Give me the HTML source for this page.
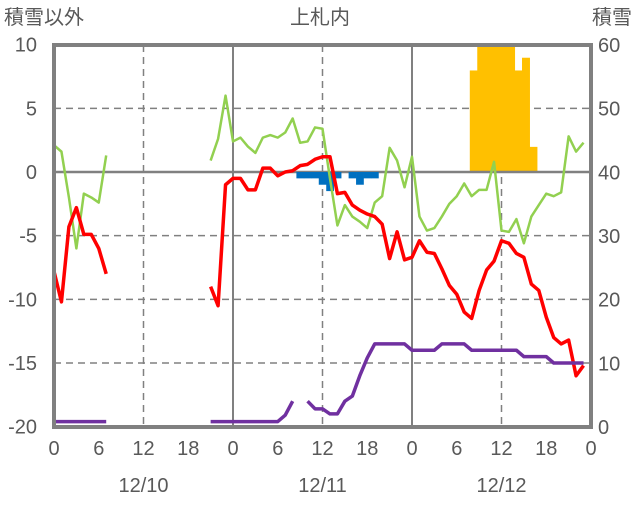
<!DOCTYPE html>
<html><head><meta charset="utf-8"><style>
body{margin:0;background:#fff}
svg text{font-family:"Liberation Sans","Noto Sans CJK JP",sans-serif;fill:#595959;font-size:20px}
</style></head><body>
<svg id="c" width="636" height="501"></svg>
<script>
const hoursA=[0,1,2,3,4,5,6,7];
const greenA=[2.1,1.6,-2,-6,-1.7,-2,-2.4,1.3];
const redA=[-7.8,-10.2,-4.3,-2.8,-4.9,-4.9,-6,-8];
const purpleA=[-19.6,-19.6,-19.6,-19.6,-19.6,-19.6,-19.6,-19.6];
const hoursB=[21,22,23,24,25,26,27,28,29,30,31,32,33,34,35,36,37,38,39,40,41,42,43,44,45,46,47,48,49,50,51,52,53,54,55,56,57,58,59,60,61,62,63,64,65,66,67,68,69,70,71];
const greenB=[0.9,2.6,6,2.4,2.7,2,1.5,2.7,2.9,2.7,3.1,4.2,2.3,2.4,3.5,3.4,-0.5,-4.2,-2.6,-3.5,-3.9,-4.4,-2.4,-1.9,1.9,0.9,-1.2,1.2,-3.5,-4.6,-4.4,-3.5,-2.5,-1.9,-0.9,-1.9,-1.4,-1.4,0.8,-4.6,-4.7,-3.7,-5.6,-3.5,-2.6,-1.7,-1.9,-1.6,2.8,1.6,2.3];
const redB=[-9,-10.5,-1,-0.5,-0.5,-1.4,-1.4,0.3,0.3,-0.3,0,0.1,0.5,0.6,1,1.2,1.2,-1.7,-1.6,-2.6,-3,-3.3,-3.5,-4.1,-6.8,-4.7,-6.9,-6.7,-5.4,-6.3,-6.4,-7.6,-8.9,-9.6,-11,-11.5,-9.3,-7.7,-7,-5.4,-5.6,-6.4,-6.7,-8.8,-9.3,-11.4,-13,-13.5,-13.2,-16,-15.2];
const purpleB1Hours=[21,22,23,24,25,26,27,28,29,30,31,32];
const purpleB1=[-19.6,-19.6,-19.6,-19.6,-19.6,-19.6,-19.6,-19.6,-19.6,-19.6,-19.1,-18];
const purpleB2Hours=[34,35,36,37,38,39,40,41,42,43,44,45,46,47,48,49,50,51,52,53,54,55,56,57,58,59,60,61,62,63,64,65,66,67,68,69,70,71];
const purpleB2=[-18,-18.6,-18.6,-19,-19,-18,-17.6,-16,-14.6,-13.5,-13.5,-13.5,-13.5,-13.5,-14,-14,-14,-14,-13.5,-13.5,-13.5,-13.5,-14,-14,-14,-14,-14,-14,-14,-14.5,-14.5,-14.5,-14.5,-15,-15,-15,-15,-15];
const precipHours=[33,34,35,36,37,38,40,41,42,43];
const precipVals=[-0.5,-0.5,-0.5,-1,-1.5,-0.5,-0.5,-1,-0.5,-0.5];
const snowHours=[56,57,58,59,60,61,62,63,64];
const snowVals=[56,60,60,60,60,60,56,58,44];
const snowBase=40;
const leftTicks=[10,5,0,-5,-10,-15,-20];
const rightTicks=[60,50,40,30,20,10,0];
const xTicks=[0,6,12,18,24,30,36,42,48,54,60,66,72];
const xTickLabels=["0","6","12","18","0","6","12","18","0","6","12","18","0"];
const dates=["12/10","12/11","12/12"];
const dateHours=[12,36,60];

const X=h=>54+h*(537/72);
const Y=v=>172-v*12.733;
const YR=v=>427-v*(382/60);
const svg=document.getElementById('c');
const NS='http://www.w3.org/2000/svg';
function mk(t,a,p){const e=document.createElementNS(NS,t);for(const k in a)e.setAttribute(k,a[k]);(p||svg).appendChild(e);return e;}

[5,-5,-10,-15].forEach(v=>{const l=mk('line',{x1:54,x2:591,y1:Y(v),y2:Y(v),stroke:'#808080','stroke-width':1.5,'stroke-dasharray':'7,5'});

});
[12,36,60].forEach(h=>{const l=mk('line',{x1:X(h),x2:X(h),y1:45,y2:427,stroke:'#808080','stroke-width':1.5,'stroke-dasharray':'7,5'});

});
[24,48].forEach(h=>{const l=mk('line',{x1:X(h),x2:X(h),y1:45,y2:427,stroke:'#808080','stroke-width':2});

});

snowHours.forEach((h,i)=>{const r=mk('rect',{x:X(h-0.25),y:YR(snowVals[i]),width:537/72+0.5,height:YR(snowBase)-YR(snowVals[i]),fill:'#ffc000'});

});

const z=mk('line',{x1:54,x2:591,y1:Y(0),y2:Y(0),stroke:'#808080','stroke-width':2.5});



precipHours.forEach((h,i)=>{const r=mk('rect',{x:X(h-0.5),y:Y(0),width:537/72+0.3,height:Y(precipVals[i])-Y(0),fill:'#0070c0'});

});

function line(hs,vs,col,w,name){const p=mk('polyline',{points:hs.map((h,i)=>X(h)+','+Y(vs[i])).join(' '),fill:'none',stroke:col,'stroke-width':w,'stroke-linejoin':'round'});

}
line(hoursA,greenA,'#92d050',2.5,'green-series-a');
line(hoursB,greenB,'#92d050',2.5,'green-series-b');
line(hoursA,redA,'#ff0000',3.5,'red-series-a');
line(hoursB,redB,'#ff0000',3.5,'red-series-b');
line(hoursA,purpleA,'#7030a0',3.5,'purple-series-a');
line(purpleB1Hours,purpleB1,'#7030a0',3.5,'purple-series-b');
line(purpleB2Hours,purpleB2,'#7030a0',3.5,'purple-series-c');

const f=mk('rect',{x:54,y:45,width:537,height:382,fill:'none',stroke:'#808080','stroke-width':4});



leftTicks.forEach(v=>{const t=mk('text',{x:37,y:Y(v)+7,'text-anchor':'end'});t.textContent=v;

});
rightTicks.forEach(v=>{const t=mk('text',{x:598,y:YR(v)+7});t.textContent=v;

});
xTicks.forEach((h,i)=>{const t=mk('text',{x:X(h),y:455,'text-anchor':'middle'});t.textContent=xTickLabels[i];

});
dates.forEach((d,i)=>{const t=mk('text',{x:X(dateHours[i]),y:492,'text-anchor':'middle'});t.textContent=d;

});
[['積雪以外',4,'start','left-axis-title'],['上札内',320,'middle','chart-title'],['積雪',632,'end','right-axis-title']].forEach(a=>{const t=mk('text',{x:a[1],y:24,'text-anchor':a[2]});t.textContent=a[0];

});
</script>
</body></html>
